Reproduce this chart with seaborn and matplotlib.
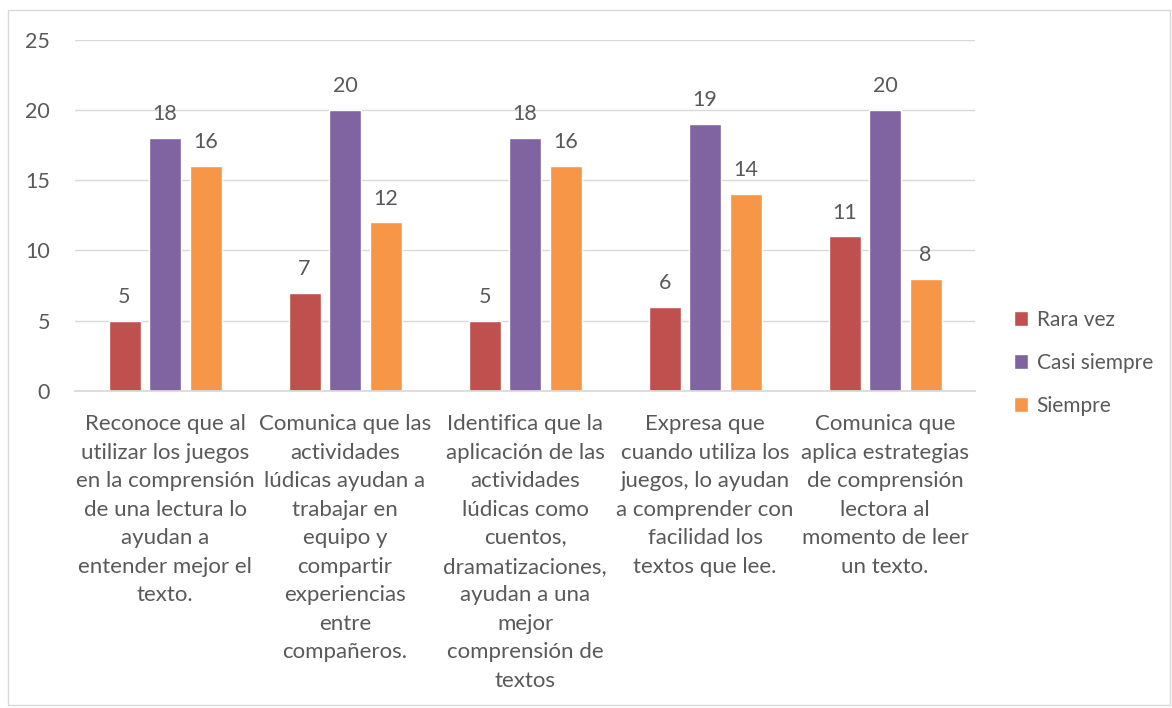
import numpy as np
import pandas as pd
import matplotlib
matplotlib.use('Agg')
import matplotlib.pyplot as plt
from matplotlib.patches import Rectangle
import seaborn as sns

CATEGORIAS = [
    'Reconoce que al\nutilizar los juegos\nen la comprensión\nde una lectura lo\nayudan a\nentender mejor el\ntexto.',
    'Comunica que las\nactividades\nlúdicas ayudan a\ntrabajar en\nequipo y\ncompartir\nexperiencias\nentre\ncompañeros.',
    'Identifica que la\naplicación de las\nactividades\nlúdicas como\ncuentos,\ndramatizaciones,\nayudan a una\nmejor\ncomprensión de\ntextos',
    'Expresa que\ncuando utiliza los\njuegos, lo ayudan\na comprender con\nfacilidad los\ntextos que lee.',
    'Comunica que\naplica estrategias\nde comprensión\nlectora al\nmomento de leer\nun texto.',
]
SERIES = ['Rara vez', 'Casi siempre', 'Siempre']
rara_vez = [5, 7, 5, 6, 11]
casi_siempre = [18, 20, 18, 19, 20]
siempre = [16, 12, 16, 14, 8]
COLORES = ['#C0504D', '#8064A2', '#F79646']

df = pd.DataFrame({
    'cat': CATEGORIAS * 3,
    'serie': np.repeat(SERIES, len(CATEGORIAS)),
    'valor': rara_vez + casi_siempre + siempre,
})

sns.set_theme(style='white')
plt.rcParams['font.family'] = ['Lato', 'DejaVu Sans']
TXT = '#595959'

fig = plt.figure(figsize=(11.72, 7.08), dpi=100)
ax = fig.add_axes([0.064, 0.448, 0.768, 0.4955])

sns.barplot(data=df, x='cat', y='valor', hue='serie', palette=COLORES,
            width=0.675, gap=0.21, ax=ax, saturation=1, legend=True)

for cont in ax.containers:
    ax.bar_label(cont, padding=10, fontsize=15.5, color=TXT)

ax.set_ylim(0, 25)
ax.set_yticks(range(0, 26, 5))
ax.yaxis.grid(True, color='#D9D9D9', linewidth=1)
ax.set_axisbelow(True)
for s in ['top', 'right', 'left']:
    ax.spines[s].set_visible(False)
ax.spines['bottom'].set_color('#D9D9D9')
ax.tick_params(axis='y', length=0, labelsize=15.5, labelcolor=TXT, pad=18)
ax.tick_params(axis='x', length=0, labelsize=16, labelcolor=TXT, pad=17)
for lbl in ax.get_xticklabels():
    lbl.set_linespacing(1.53)
ax.set_xlabel('')
ax.set_ylabel('')

leg = ax.legend(loc='center left', bbox_to_anchor=(1.022, 0.08), frameon=False,
                fontsize=15, handlelength=0.7, handleheight=0.7,
                labelspacing=1.1, handletextpad=0.4)
for t in leg.get_texts():
    t.set_color(TXT)

fig.patches.append(Rectangle((0.007, 0.004), 0.991, 0.982, transform=fig.transFigure,
                             fill=False, edgecolor='#D9D9D9', linewidth=1))

fig.savefig('out.png', dpi=100)
